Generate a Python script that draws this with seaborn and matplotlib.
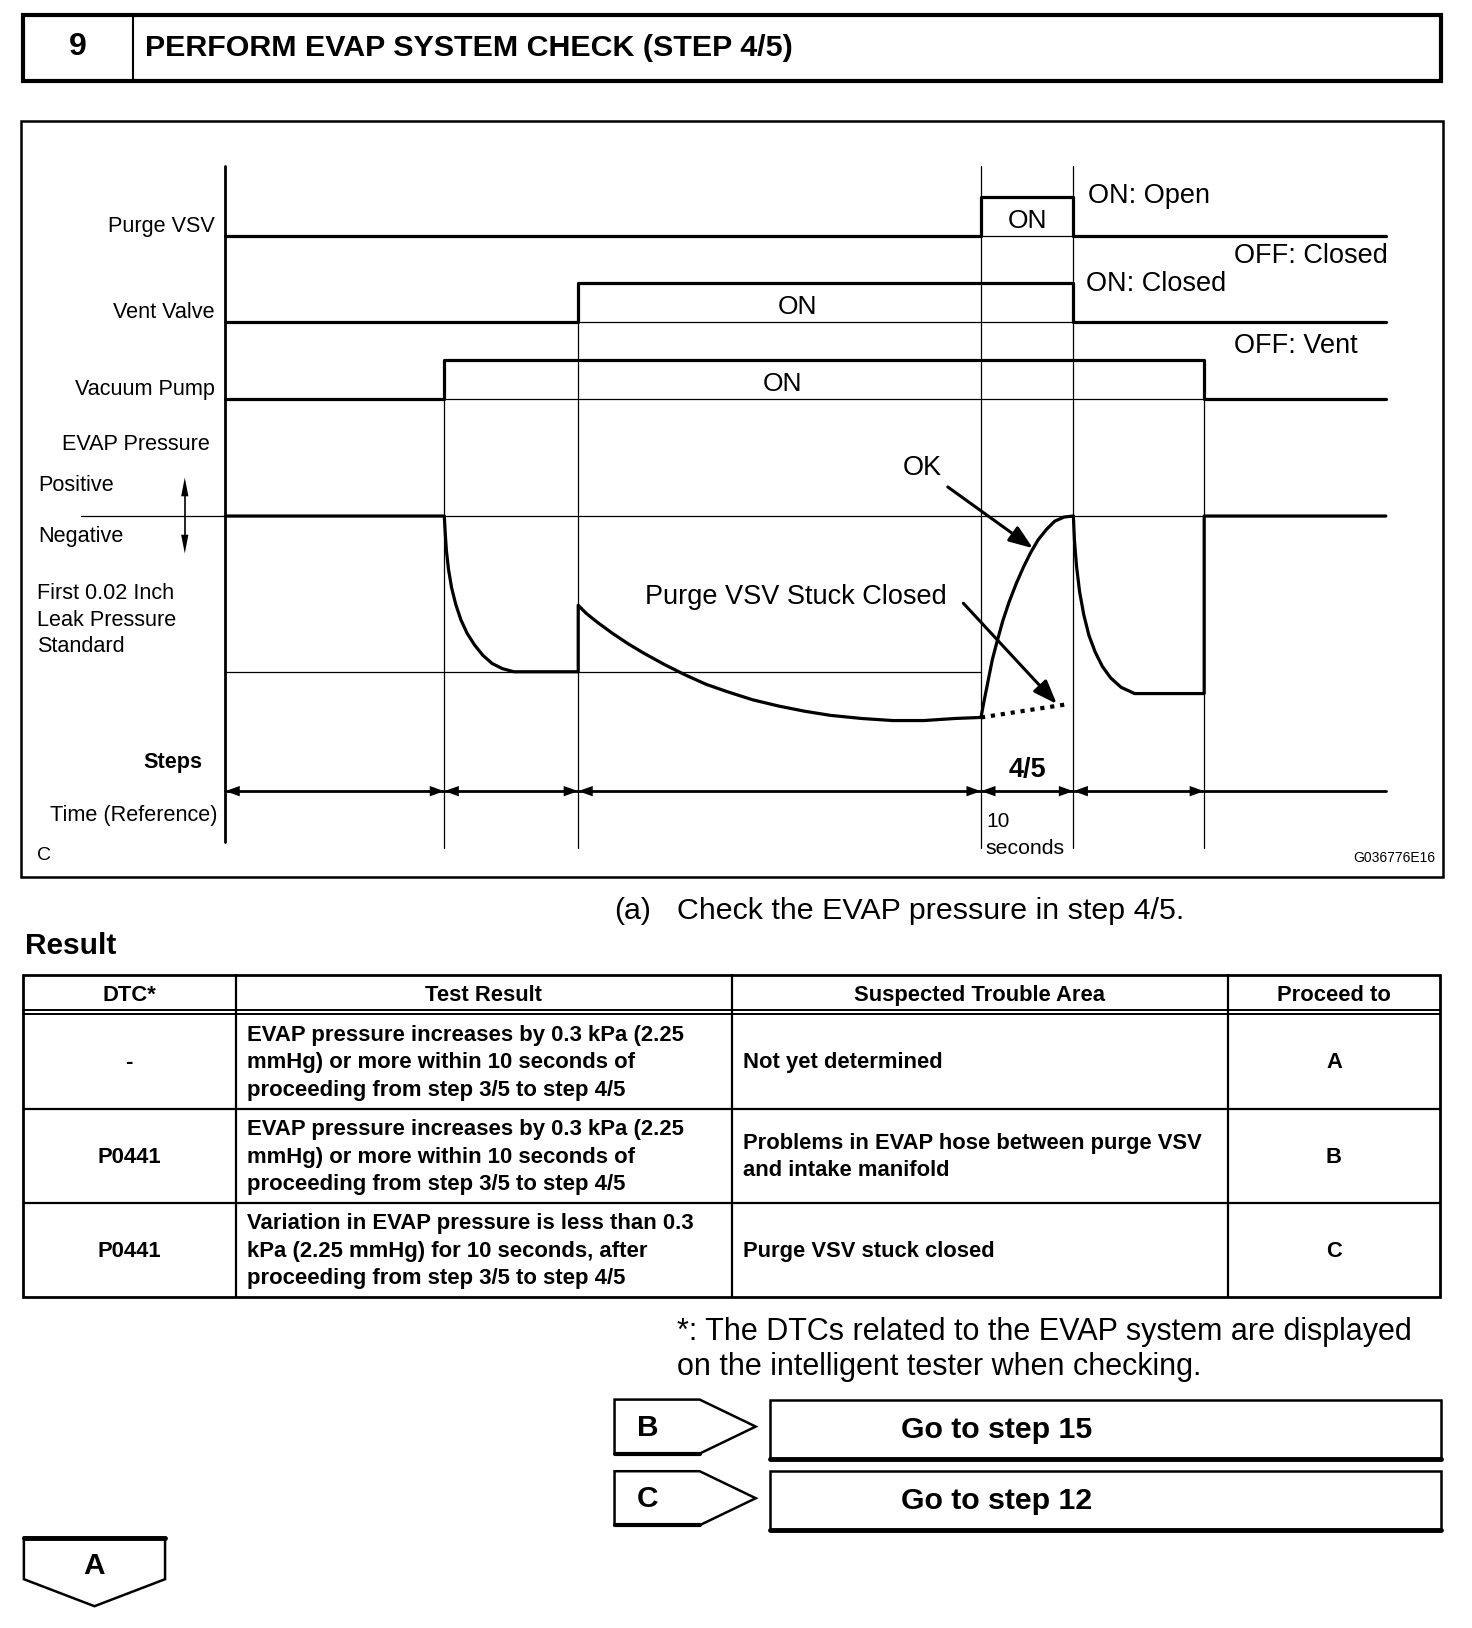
import matplotlib
matplotlib.use('Agg')
import matplotlib.pyplot as plt
from matplotlib.patches import Polygon, Rectangle
import seaborn as sns

sns.set_theme(style='white')
plt.rcParams['font.family'] = ['Liberation Sans', 'DejaVu Sans']

W, H = 1418, 1568          # page units (reference scale)
THICK, THIN = 2.3, 0.9

# ── timing diagram data ──
EVENT_X   = [217, 428, 557, 945, 1034, 1160, 1335]
SIGNALS   = ['Purge VSV', 'Vent Valve', 'Vacuum Pump']
SIGNAL_Y  = [227, 310, 384]
PURGE_ON  = [0, 0, 0, 1, 0, 0]
VENT_ON   = [0, 0, 1, 1, 0, 0]
PUMP_ON   = [0, 1, 1, 1, 1, 0]
ON_LABEL_X = [990, 768, 754]
HIGH = 37

ZERO_Y = 497
LEAK_Y = 647

# pressure trace (page units)
PRESS_X = [217, 428, 429, 430, 432, 435, 439, 444, 450, 457, 465, 474, 484, 495,
           557, 557, 565, 575, 590, 605, 620, 640, 660, 680, 700, 725, 750, 775,
           800, 830, 860, 890, 920, 945]
PRESS_Y = [497, 497, 515, 530, 548, 566, 582, 597, 610, 621, 631, 639, 644, 647,
           647, 583, 591, 599, 610, 620, 629, 640, 650, 659, 666, 674, 680, 685,
           689, 692, 694, 694, 692, 691]
OK_X = [945, 948, 952, 956, 961, 966, 972, 979, 986, 993, 1000, 1008, 1016, 1025, 1034]
OK_Y = [691, 675, 655, 635, 616, 598, 580, 562, 546, 532, 520, 510, 502, 498, 497]
STUCK_X = [945, 1030]
STUCK_Y = [691, 678]
AFTER_X = [1034, 1035, 1037, 1040, 1044, 1049, 1055, 1062, 1070, 1080, 1093,
           1160, 1160, 1335]
AFTER_Y = [497, 520, 545, 570, 592, 612, 628, 642, 653, 662, 668,
           668, 497, 497]

STEP_Y = 762

# ── table data ──
TABLE_HEAD = ['DTC*', 'Test Result', 'Suspected Trouble Area', 'Proceed to']
DTC = ['-', 'P0441', 'P0441']
TEST_RESULT = [
    ['EVAP pressure increases by 0.3 kPa (2.25',
     'mmHg) or more within 10 seconds of',
     'proceeding from step 3/5 to step 4/5'],
    ['EVAP pressure increases by 0.3 kPa (2.25',
     'mmHg) or more within 10 seconds of',
     'proceeding from step 3/5 to step 4/5'],
    ['Variation in EVAP pressure is less than 0.3',
     'kPa (2.25 mmHg) for 10 seconds, after',
     'proceeding from step 3/5 to step 4/5'],
]
TROUBLE = [['Not yet determined'],
           ['Problems in EVAP hose between purge VSV', 'and intake manifold'],
           ['Purge VSV stuck closed']]
PROCEED = ['A', 'B', 'C']
COL_X = [22, 227, 705, 1183, 1387]
ROW_Y = [939, 977, 1068, 1159, 1249]

GOTO = [('B', 'Go to step 15', 1348), ('C', 'Go to step 12', 1417)]


def line(ax, xs, ys, lw=THICK, **kw):
    sns.lineplot(x=xs, y=ys, ax=ax, sort=False, estimator=None,
                 color='black', lw=lw, legend=False, **kw)


def txt(ax, x, y, s, size=15.6, ha='left', weight='normal', **kw):
    ax.text(x, y + 2, s, fontsize=size, ha=ha, va='center', weight=weight,
            color='black', **kw)


def head(ax, x, y, direction, length=14, half=5):
    # filled arrow head with its tip at (x, y)
    pts = [(x, y), (x - direction * length, y - half), (x - direction * length, y + half)]
    ax.add_patch(Polygon(pts, closed=True, color='black', lw=0))


fig = plt.figure(figsize=(14.72, 16.28), dpi=100)
ax = fig.add_axes([0, 0, 1, 1])
ax.set_xlim(0, W)
ax.set_ylim(H, 0)
ax.axis('off')

# ── header ──
ax.add_patch(Rectangle((22, 14), 1366, 64, fill=False, lw=3.0, ec='black'))
line(ax, [128, 128], [14, 78], lw=1.5)
txt(ax, 75, 43, '9', size=23, ha='center', weight='bold')
txt(ax, 140, 44, 'PERFORM EVAP SYSTEM CHECK (STEP 4/5)', size=21.9, weight='bold')

# ── diagram frame ──
ax.add_patch(Rectangle((20, 117), 1370, 728, fill=False, lw=1.8, ec='black'))
line(ax, [217, 217], [160, 811], lw=2.0)

# thin event guides
guide_top = {428: 346, 557: 272, 945: 160, 1034: 160, 1160: 346}
for ex, top in guide_top.items():
    line(ax, [ex, ex], [top, 817], lw=THIN)

# digital signals
for name, base, states, lx in zip(SIGNALS, SIGNAL_Y, [PURGE_ON, VENT_ON, PUMP_ON], ON_LABEL_X):
    xs, ys = [EVENT_X[0]], [base]
    for i, st in enumerate(states):
        y = base - HIGH * st
        if y != ys[-1]:
            xs.append(EVENT_X[i]); ys.append(y)
        xs.append(EVENT_X[i + 1]); ys.append(y)
    line(ax, xs, ys)
    on_idx = [i for i, st in enumerate(states) if st]
    line(ax, [EVENT_X[on_idx[0]], EVENT_X[on_idx[-1] + 1]], [base, base], lw=THIN)
    txt(ax, 207, base - 11, name, ha='right')
    txt(ax, lx, base - 16, 'ON', size=19, ha='center')

txt(ax, 1048, 187, 'ON: Open', size=19.5)
txt(ax, 1189, 245, 'OFF: Closed', size=19.5)
txt(ax, 1046, 272, 'ON: Closed', size=19.5)
txt(ax, 1189, 331, 'OFF: Vent', size=19.5)

# pressure
line(ax, [78, 1335], [ZERO_Y, ZERO_Y], lw=THIN)
line(ax, [217, 945], [LEAK_Y, LEAK_Y], lw=THIN)
line(ax, PRESS_X, PRESS_Y)
line(ax, OK_X, OK_Y)
line(ax, AFTER_X, AFTER_Y)
ax.plot(STUCK_X, STUCK_Y, color='black', lw=3.0, ls=(0, (1, 1.4)))

txt(ax, 202, 426, 'EVAP Pressure', ha='right')
txt(ax, 37, 466, 'Positive')
txt(ax, 37, 515, 'Negative')
line(ax, [178, 178], [470, 524], lw=1.2)
ax.add_patch(Polygon([(178, 460), (174.5, 478), (181.5, 478)], color='black', lw=0))
ax.add_patch(Polygon([(178, 533), (174.5, 515), (181.5, 515)], color='black', lw=0))
for i, s in enumerate(['First 0.02 Inch', 'Leak Pressure', 'Standard']):
    txt(ax, 36, 570 + 25.5 * i, s)

txt(ax, 888, 449, 'OK', size=19.5, ha='center')
ax.annotate('', xy=(995, 528), xytext=(913, 469),
            arrowprops=dict(arrowstyle='-|>,head_length=1.2,head_width=0.45',
                            color='black', lw=2.2, shrinkA=0, shrinkB=0))
txt(ax, 767, 573, 'Purge VSV Stuck Closed', size=19.5, ha='center')
ax.annotate('', xy=(1018, 678), xytext=(928, 581),
            arrowprops=dict(arrowstyle='-|>,head_length=1.2,head_width=0.45',
                            color='black', lw=2.2, shrinkA=0, shrinkB=0))

# steps row
line(ax, [217, 1335], [STEP_Y, STEP_Y], lw=2.0)
divs = EVENT_X[:6]
for i, dx in enumerate(divs):
    if i > 0:
        head(ax, dx, STEP_Y, 1)
    if i < len(divs) - 1:
        head(ax, dx, STEP_Y, -1)
txt(ax, 195, 732, 'Steps', weight='bold', ha='right')
txt(ax, 210, 783, 'Time (Reference)', ha='right')
txt(ax, 990, 740, '4/5', size=19.5, ha='center', weight='bold')
txt(ax, 950, 789, '10', size=15)
txt(ax, 949, 815, 'seconds', size=15.3)
txt(ax, 36, 822, 'C', size=14)
txt(ax, 1383, 824, 'G036776E16', size=10, ha='right')

# ── note + result ──
txt(ax, 592, 875, '(a)', size=21.9)
txt(ax, 652, 875, 'Check the EVAP pressure in step 4/5.', size=21.9)
txt(ax, 24, 909, 'Result', size=21.5, weight='bold')

# ── table ──
ax.add_patch(Rectangle((COL_X[0], ROW_Y[0]), COL_X[-1] - COL_X[0], ROW_Y[-1] - ROW_Y[0],
                       fill=False, lw=2.0, ec='black'))
for cx in COL_X[1:-1]:
    line(ax, [cx, cx], [ROW_Y[0], ROW_Y[-1]], lw=1.6)
line(ax, [COL_X[0], COL_X[-1]], [ROW_Y[1] - 4, ROW_Y[1] - 4], lw=1.4)
line(ax, [COL_X[0], COL_X[-1]], [ROW_Y[1], ROW_Y[1]], lw=1.4)
for ry in ROW_Y[2:-1]:
    line(ax, [COL_X[0], COL_X[-1]], [ry, ry], lw=1.6)

centers = [(COL_X[i] + COL_X[i + 1]) / 2 for i in range(4)]
for c, h in zip(centers, TABLE_HEAD):
    txt(ax, c, 957, h, size=15.8, weight='bold', ha='center')
for r in range(3):
    mid = (ROW_Y[r + 1] + ROW_Y[r + 2]) / 2 - 1
    txt(ax, centers[0], mid, DTC[r], size=15.8, weight='bold', ha='center')
    for k, s in enumerate(TEST_RESULT[r]):
        txt(ax, 238, mid + 26.5 * (k - 1), s, size=15.9, weight='bold')
    n = len(TROUBLE[r])
    for k, s in enumerate(TROUBLE[r]):
        txt(ax, 716, mid + 26.5 * (k - (n - 1) / 2), s, size=15.8, weight='bold')
    txt(ax, centers[3], mid, PROCEED[r], size=15.8, weight='bold', ha='center')

# ── footnote ──
txt(ax, 652, 1281, '*: The DTCs related to the EVAP system are displayed', size=22)
txt(ax, 652, 1315, 'on the intelligent tester when checking.', size=22)

# ── go-to boxes ──
for letter, label, top in GOTO:
    pent = [(592, top), (674, top), (728, top + 26), (674, top + 52), (592, top + 52)]
    ax.add_patch(Polygon(pent, closed=True, fill=False, lw=1.8, ec='black'))
    line(ax, [592, 674], [top + 52, top + 52], lw=3.0)
    txt(ax, 624, top + 25, letter, size=21.5, weight='bold', ha='center')
    ax.add_patch(Rectangle((742, top), 646, 57, fill=False, lw=1.8, ec='black'))
    line(ax, [742, 1388], [top + 57, top + 57], lw=3.5)
    txt(ax, 868, top + 27, label, size=21.8, weight='bold')

pa = [(23, 1481), (159, 1481), (159, 1521), (91, 1547), (23, 1521)]
ax.add_patch(Polygon(pa, closed=True, fill=False, lw=1.8, ec='black'))
line(ax, [23, 159], [1481, 1481], lw=3.5)
txt(ax, 91, 1506, 'A', size=21.5, weight='bold', ha='center')

fig.savefig('out.png', dpi=100, facecolor='white')
